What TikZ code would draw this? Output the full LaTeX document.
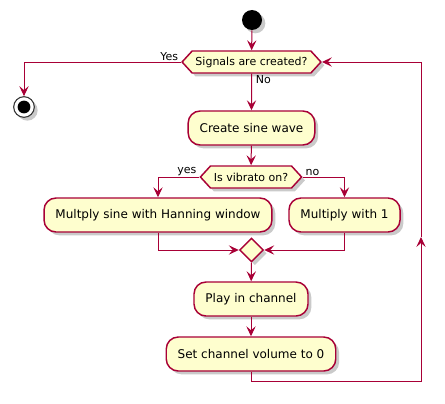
\documentclass[tikz,border=0pt]{standalone}
\usepackage{fontspec}
\setmainfont{DejaVu Sans}
\usetikzlibrary{positioning,arrows.meta,shapes.geometric,shapes.symbols,shadows}
\definecolor{umlred}{HTML}{A80036}
\definecolor{umlfill}{HTML}{FEFECE}
\tikzset{
  shade/.style={drop shadow={shadow xshift=2.5pt,shadow yshift=-2.5pt,opacity=0.35,fill=black!60}},
  activity/.style={rectangle,rounded corners=9pt,draw=umlred,fill=umlfill,line width=1.1pt,
    minimum height=25.5pt,inner xsep=8.6pt,font=\fontsize{9}{11}\selectfont,shade},
  decision/.style={signal,signal to=west and east,signal pointer angle=95,draw=umlred,fill=umlfill,
    line width=1.1pt,minimum height=16.5pt,inner xsep=2.5pt,inner ysep=0pt,font=\fontsize{8.25}{10}\selectfont,shade},
  merge/.style={diamond,draw=umlred,fill=umlfill,line width=1.1pt,minimum size=18pt,inner sep=0pt,shade},
  flow/.style={umlred,line width=0.75pt,-{Stealth[length=7.5pt,width=7pt,inset=3pt]}},
  lbl/.style={font=\fontsize{8.25}{10}\selectfont,inner sep=1pt}
}

\begin{document}
\begin{tikzpicture}[x=0.75pt,y=-0.75pt]
    \useasboundingbox (0,0) rectangle (445,403);
    % start and stop
    \node[circle,fill=black,minimum size=15pt,inner sep=0pt,shade] (start) at (252,20) {};
    \node[circle,draw=black!80,fill=white,line width=0.8pt,minimum size=15.5pt,inner sep=0pt,shade,
      path picture={\fill[black] (path picture bounding box.center) circle (4.8pt);}] (stop) at (24,107) {};
    % main loop
    \node[decision] (signals) at (251.5,62) {Signals are created?};
    \node[activity] (sine) at (251.5,128) {Create sine wave};
    \node[decision] (vibrato) at (251,177) {Is vibrato on?};
    \node[activity] (hanning) at (158,215) {Multply sine with Hanning window};
    \node[activity] (one) at (344.5,215) {Multiply with 1};
    \node[merge] (join) at (251.5,250) {};
    \node[activity] (play) at (251,299) {Play in channel};
    \node[activity] (volume) at (251,354) {Set channel volume to 0};
    % branch labels
    \node[lbl,anchor=south east] (yes1) at ([xshift=-1pt]signals.west) {Yes};
    \node[lbl,anchor=north west] (no1) at ([xshift=2pt]signals.south) {No};
    \node[lbl,anchor=south east] (yes2) at ([xshift=-1pt]vibrato.west) {yes};
    \node[lbl,anchor=south west] (no2) at ([xshift=1pt]vibrato.east) {no};
    % connectors
    \draw[flow] (start) -- (signals);
    \draw[flow] (signals.west) -| (stop);
    \draw[flow] (signals) -- (sine);
    \draw[flow] (sine) -- (vibrato);
    \draw[flow] (vibrato.west) -| (hanning);
    \draw[flow] (vibrato.east) -| (one);
    \draw[flow] (hanning.south) |- (join.west);
    \draw[flow] (one.south) |- (join.east);
    \draw[flow] (join) -- (play);
    \draw[flow] (play) -- (volume);
    \coordinate (back) at (421,237);
    \draw[flow] (volume.south) -- ++(0,10) -| (back);
    \draw[flow] (back) |- (signals.east);
  \end{tikzpicture}
\end{document}
